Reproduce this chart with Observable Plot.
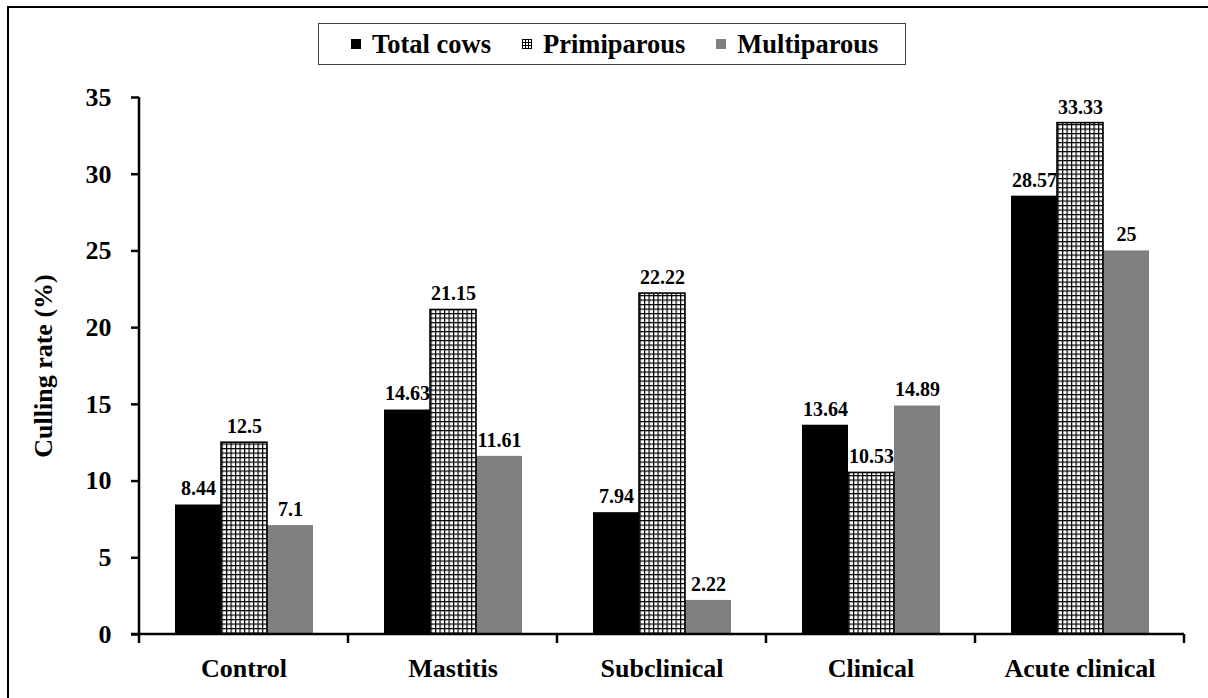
<!DOCTYPE html>
<html>
<head>
<meta charset="utf-8">
<script src="https://cdn.jsdelivr.net/npm/d3@7"></script>
<script src="https://cdn.jsdelivr.net/npm/@observablehq/plot@0.6"></script>
<style>
  html, body { margin: 0; padding: 0; background: #fff; }
  body { width: 1208px; height: 698px; overflow: hidden; position: relative; }
  #frame { position: absolute; left: 7px; top: 6px; width: 1300px; height: 800px; border: 2.5px solid #000; box-sizing: border-box; }
  #legend { position: absolute; left: 318px; top: 23px; width: 588px; height: 42px; border: 1.5px solid #404040; box-sizing: border-box; display: flex; align-items: center; padding-left: 32px; font-family: "Liberation Serif", "Times New Roman", serif; font-weight: bold; font-size: 26.5px; color: #000; white-space: nowrap; overflow: hidden; }
  #legend .item { display: flex; align-items: center; margin-right: 31px; flex-shrink: 0; white-space: nowrap; }
  #legend .item svg { margin-right: 11px; flex-shrink: 0; }
  #chart { position: absolute; left: 0; top: 70px; }
</style>
</head>
<body>
<svg width="0" height="0" style="position:absolute">
  <defs>
    <pattern id="grid" patternUnits="userSpaceOnUse" width="4.5" height="4.5">
      <rect width="4.5" height="4.5" fill="#000"></rect>
      <rect x="1.2" y="1.2" width="3.3" height="3.3" fill="#fff"></rect>
    </pattern>
    <pattern id="gridSmall" patternUnits="userSpaceOnUse" width="3" height="3">
      <rect width="3" height="3" fill="#000"></rect>
      <rect x="1" y="1" width="2" height="2" fill="#fff"></rect>
    </pattern>
  </defs>
</svg>
<div id="frame"></div>
<div id="legend"></div>
<div id="chart"></div>
<script>
const categories = ["Control", "Mastitis", "Subclinical", "Clinical", "Acute clinical"];
const series = ["Total cows", "Primiparous", "Multiparous"];
const totalCows = [8.44, 14.63, 7.94, 13.64, 28.57];
const primiparous = [12.5, 21.15, 22.22, 10.53, 33.33];
const multiparous = [7.1, 11.61, 2.22, 14.89, 25];
const yTicks = [0, 5, 10, 15, 20, 25, 30, 35];
const seriesColors = ["#000000", "url(#grid)", "#808080"];
const yLabel = "Culling rate (%)";

const values = [totalCows, primiparous, multiparous];
const data = categories.flatMap((c, i) =>
  series.map((s, k) => ({category: c, series: s, value: values[k][i]}))
);

// Legend (HTML, above the svg)
const legend = document.getElementById("legend");
series.forEach((s, k) => {
  const item = document.createElement("span");
  item.className = "item";
  const fill = k === 1 ? "url(#gridSmall)" : seriesColors[k];
  item.innerHTML = `<svg width="10" height="10"><rect width="10" height="10" fill="${fill}"></rect></svg><span>${s}</span>`;
  legend.appendChild(item);
});

const plot = Plot.plot({
  width: 1208,
  height: 628,
  marginLeft: 138,
  marginRight: 23,
  marginTop: 27,
  marginBottom: 64,
  style: {fontFamily: "'Liberation Serif', 'Times New Roman', serif", fontWeight: "bold", fontSize: "26px", color: "#000", background: "transparent"},
  fx: {domain: categories, padding: 0},
  x: {domain: series, paddingInner: 0, paddingOuter: 0.7556, axis: null},
  y: {domain: [0, 35]},
  color: {domain: series, range: seriesColors},
  marks: [
    Plot.barY(data, {fx: "category", x: "series", y: "value", fill: "series"}),
    Plot.barY(data.filter(d => d.series === "Primiparous"), {fx: "category", x: "series", y: "value", fill: "none", stroke: "#000", strokeWidth: 1.6}),
    Plot.text(data, {fx: "category", x: "series", y: "value", text: d => String(d.value), dy: -16, fontSize: 20, fill: "#000"}),
    Plot.axisY({ticks: yTicks, tickSize: 8, tickPadding: 20, strokeWidth: 2.5, label: yLabel, labelAnchor: "center", labelOffset: 106, labelArrow: false}),
    Plot.axisFx({anchor: "bottom", tickSize: 0, tickPadding: 24, label: null})
  ]
});
document.getElementById("chart").appendChild(plot);

// strip any automatic arrow from the y label
d3.select(plot).selectAll("text").each(function() {
  if (this.textContent.startsWith("Culling")) this.textContent = yLabel;
});

// Axis lines and category boundary ticks, positioned from Plot's own scales
const fx = plot.scale("fx");
const y = plot.scale("y");
const bounds = categories.map(c => fx.apply(c));
bounds.push(bounds[bounds.length - 1] + fx.step);
const y0 = y.apply(0), yTop = y.apply(35);
const g = d3.select(plot).append("g").attr("stroke", "#000").attr("stroke-width", 2.5).attr("fill", "none");
g.append("line").attr("x1", bounds[0]).attr("x2", bounds[0]).attr("y1", yTop).attr("y2", y0);
g.append("line").attr("x1", bounds[0] - 8).attr("x2", bounds[bounds.length - 1]).attr("y1", y0).attr("y2", y0);
bounds.forEach(b => g.append("line").attr("x1", b).attr("x2", b).attr("y1", y0).attr("y2", y0 + 9));
</script>
</body>
</html>
